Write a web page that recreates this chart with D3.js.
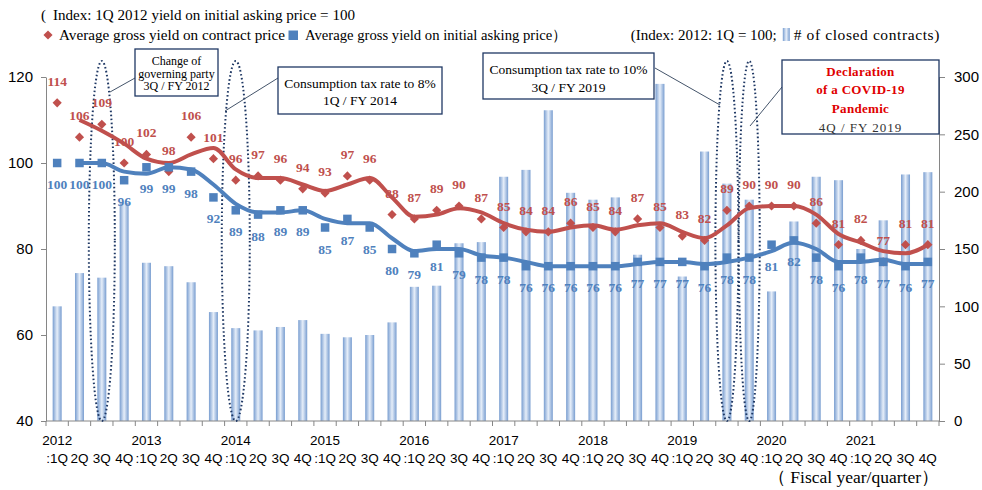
<!DOCTYPE html>
<html><head><meta charset="utf-8">
<script src="https://cdn.jsdelivr.net/npm/d3@7/dist/d3.min.js"></script>
<style>
body{margin:0;background:#fff;}
svg{display:block;}
</style></head>
<body><svg id="c" width="982" height="490"></svg>
<script>
const years = ["2012","2013","2014","2015","2016","2017","2018","2019","2020","2021"];
const quarterLabels = [":1Q","2Q","3Q","4Q"];
const contractYield = [114,106,109,100,102,98,106,101,96,97,96,94,93,97,96,88,87,89,90,87,85,84,84,86,85,84,87,85,83,82,89,90,90,90,86,81,82,77,81,81];
const askingYield = [100,100,100,96,99,99,98,92,89,88,89,89,85,87,85,80,79,81,79,78,78,76,76,76,76,76,77,77,77,76,78,78,81,82,78,76,78,77,76,77];
const closedContracts = [100,129,125,190,138,135,121,95,81,79,82,88,76,73,75,86,117,118,155,156,213,219,271,199,193,195,145,294,126,235,207,193,113,174,213,210,150,175,215,217];
const leftTicks = [40,60,80,100,120];
const rightTicks = [0,50,100,150,200,250,300];
const events = [
  {idx:2, lines:["Change of","governing party","3Q / FY 2012"]},
  {idx:8, lines:["Consumption tax rate to 8%","1Q / FY 2014"]},
  {idx:30, lines:["Consumption tax rate to 10%","3Q / FY 2019"]},
  {idx:31, lines:["Declaration","of a COVID-19","Pandemic","4Q / FY 2019"]}
];

const RED = "#c0504d", BLUE = "#4f81bd";
const svg = d3.select("#c");
const n = contractYield.length;
const x = d3.scaleBand().domain(d3.range(n)).range([46, 939]).padding(0);
const cx = i => x(i) + x.bandwidth()/2;
const yL = d3.scaleLinear().domain([40,120]).range([421,77]);
const yR = d3.scaleLinear().domain([0,300]).range([421,77]);

const defs = svg.append("defs");
const g = defs.append("linearGradient").attr("id","barGrad").attr("x1","0").attr("x2","1").attr("y1","0").attr("y2","0");
g.append("stop").attr("offset","0%").attr("stop-color","#789dd0");
g.append("stop").attr("offset","50%").attr("stop-color","#e6eef9");
g.append("stop").attr("offset","100%").attr("stop-color","#789dd0");

// bars
const bw = 9;
svg.append("g").selectAll("rect").data(closedContracts).join("rect")
  .attr("x",(d,i)=>cx(i)-bw/2).attr("width",bw)
  .attr("y",d=>yR(d)).attr("height",d=>yR(0)-yR(d))
  .attr("fill","url(#barGrad)");

// axes
const axL = svg.append("g").attr("transform","translate(46,0)")
  .call(d3.axisLeft(yL).tickValues(leftTicks).tickSize(5).tickPadding(8).tickSizeOuter(0));
const axR = svg.append("g").attr("transform","translate(939,0)")
  .call(d3.axisRight(yR).tickValues(rightTicks).tickSize(6).tickPadding(9).tickSizeOuter(0));
[axL,axR].forEach(a=>{
  a.selectAll("path,line").attr("stroke","#868686");
  a.selectAll("text").attr("font-family","Liberation Sans, Arial, sans-serif").attr("font-size",15).attr("fill","#000");
});
// x axis
const xb = svg.append("g");
xb.append("line").attr("x1",46).attr("x2",939).attr("y1",421).attr("y2",421).attr("stroke","#868686");
xb.selectAll("line.t").data(d3.range(n+1)).join("line").attr("class","t")
  .attr("x1",i=>i<n?x(i):x.range()[1]).attr("x2",i=>i<n?x(i):x.range()[1])
  .attr("y1",421).attr("y2",426).attr("stroke","#868686");
xb.selectAll("text.q").data(d3.range(n)).join("text").attr("class","q")
  .attr("x",i=>cx(i)).attr("y",463).attr("text-anchor","middle")
  .attr("font-family","Liberation Sans, Arial, sans-serif").attr("font-size",13.5)
  .text(i=>quarterLabels[i%4]);
xb.selectAll("text.y").data(years).join("text").attr("class","y")
  .attr("x",(d,j)=>cx(j*4)).attr("y",445).attr("text-anchor","middle")
  .attr("font-family","Liberation Sans, Arial, sans-serif").attr("font-size",13.5)
  .text(d=>d);
svg.append("text").attr("x",939).attr("y",483).attr("text-anchor","end")
  .attr("font-family","Liberation Serif, Times New Roman, serif").attr("font-size",17.5)
  .text("（ Fiscal year/quarter）");

// ellipses
const ellipses = [{i:2,rx:13},{i:8,rx:14},{i:30,rx:11.5},{i:31,rx:10.5}];
svg.append("g").selectAll("ellipse").data(ellipses).join("ellipse")
  .attr("cx",d=>cx(d.i)).attr("cy",(61+421)/2).attr("rx",d=>d.rx).attr("ry",(421-61)/2)
  .attr("fill","none").attr("stroke","#1f3864").attr("stroke-width",2)
  .attr("stroke-dasharray","1.6 2.4");

// moving average lines
function ma(arr){ return arr.map((v,i)=> i===0?null:(arr[i-1]+v)/2); }
const line = d3.line().defined(d=>d!=null).x((d,i)=>cx(i)).y(d=>yL(d)).curve(d3.curveMonotoneX);
svg.append("path").datum(ma(contractYield)).attr("d",line).attr("fill","none").attr("stroke",RED).attr("stroke-width",4);
svg.append("path").datum(ma(askingYield)).attr("d",line).attr("fill","none").attr("stroke",BLUE).attr("stroke-width",4);

// markers
svg.append("g").selectAll("path").data(contractYield).join("path")
  .attr("d",d3.symbol(d3.symbolSquare,42)())
  .attr("transform",(d,i)=>`translate(${cx(i)},${yL(d)}) rotate(45)`).attr("fill",RED);
svg.append("g").selectAll("rect").data(askingYield).join("rect")
  .attr("x",(d,i)=>cx(i)-4.25).attr("y",d=>yL(d)-4.25).attr("width",8.5).attr("height",8.5).attr("fill",BLUE);

// labels
const lf = "Liberation Serif, Times New Roman, serif";
svg.append("g").selectAll("text").data(contractYield).join("text")
  .attr("x",(d,i)=>cx(i)).attr("y",d=>yL(d)-17).attr("text-anchor","middle")
  .attr("font-family",lf).attr("font-weight","bold").attr("font-size",13.5).attr("fill",RED)
  .text(d=>d3.format(".0f")(d));
svg.append("g").selectAll("text").data(askingYield).join("text")
  .attr("x",(d,i)=>cx(i)).attr("y",d=>yL(d)+26).attr("text-anchor","middle")
  .attr("font-family",lf).attr("font-weight","bold").attr("font-size",13.5).attr("fill",BLUE)
  .text(d=>d3.format(".0f")(d));

// annotation boxes
const boxes = [
  {ev:0, x0:135, y0:49, x1:218, y1:96, fs:12, lh:12.5, ty:61, line:[135,78,110,92]},
  {ev:1, x0:278, y0:67, x1:442, y1:114, fs:13.5, lh:17, ty:83, line:[278,78,225,111]},
  {ev:2, x0:483, y0:53, x1:654, y1:99, fs:13.5, lh:18, ty:69, line:[655,68,720,105]},
  {ev:3, x0:782, y0:60, x1:939, y1:134, fs:13, lh:18.7, ty:71, line:[782,87,750,126]}
];
boxes.forEach(b=>{
  const e = events[b.ev];
  svg.append("line").attr("x1",b.line[0]).attr("y1",b.line[1]).attr("x2",b.line[2]).attr("y2",b.line[3])
    .attr("stroke","#44546a").attr("stroke-width",1);
  svg.append("rect").attr("x",b.x0).attr("y",b.y0).attr("width",b.x1-b.x0).attr("height",b.y1-b.y0)
    .attr("fill","#fff").attr("stroke","#1f3864").attr("stroke-width",1.3);
  e.lines.forEach((t,k)=>{
    const covid = b.ev===3 && k<3;
    svg.append("text").attr("x",(b.x0+b.x1)/2).attr("y",b.ty+k*b.lh+b.fs*0.35)
      .attr("text-anchor","middle").attr("font-family",lf).attr("font-size",b.fs)
      .attr("font-weight",covid?"bold":"normal").attr("fill",covid?"#e00000":(b.ev===3?"#333":"#000"))
      .attr("letter-spacing",b.ev===3?(covid?0.3:1):0)
      .text(t);
  });
});

// header / legend
const hdr = svg.append("g").attr("font-family",lf).attr("font-size",15).attr("fill","#000");
hdr.append("text").attr("x",41).attr("y",20).text("(");
hdr.append("text").attr("x",53).attr("y",20).attr("textLength",302).attr("lengthAdjust","spacingAndGlyphs")
  .text("Index: 1Q 2012 yield on initial asking price = 100");
svg.append("path").attr("d",d3.symbol(d3.symbolSquare,42)()).attr("transform","translate(48,35) rotate(45)").attr("fill",RED);
hdr.append("text").attr("x",59).attr("y",40).attr("textLength",226).attr("lengthAdjust","spacingAndGlyphs")
  .text("Average gross yield on contract price");
svg.append("rect").attr("x",288.5).attr("y",30.5).attr("width",9.5).attr("height",9.5).attr("fill",BLUE);
hdr.append("text").attr("x",305).attr("y",40).attr("textLength",262).attr("lengthAdjust","spacingAndGlyphs")
  .text("Average gross yield on initial asking price）");
const t2 = hdr.append("text").attr("x",940).attr("y",40).attr("text-anchor","end").attr("font-size",15.5)
  .attr("letter-spacing",0.6).text("# of closed contracts)");
const t2w = t2.node().getComputedTextLength();
const iconX = 940 - t2w - 11;
svg.append("rect").attr("x",iconX).attr("y",28).attr("width",7).attr("height",13).attr("fill","url(#barGrad)");
hdr.append("text").attr("x",iconX-6).attr("y",40).attr("text-anchor","end").attr("font-size",15)
  .text("(Index: 2012: 1Q = 100;");
</script></body></html>
